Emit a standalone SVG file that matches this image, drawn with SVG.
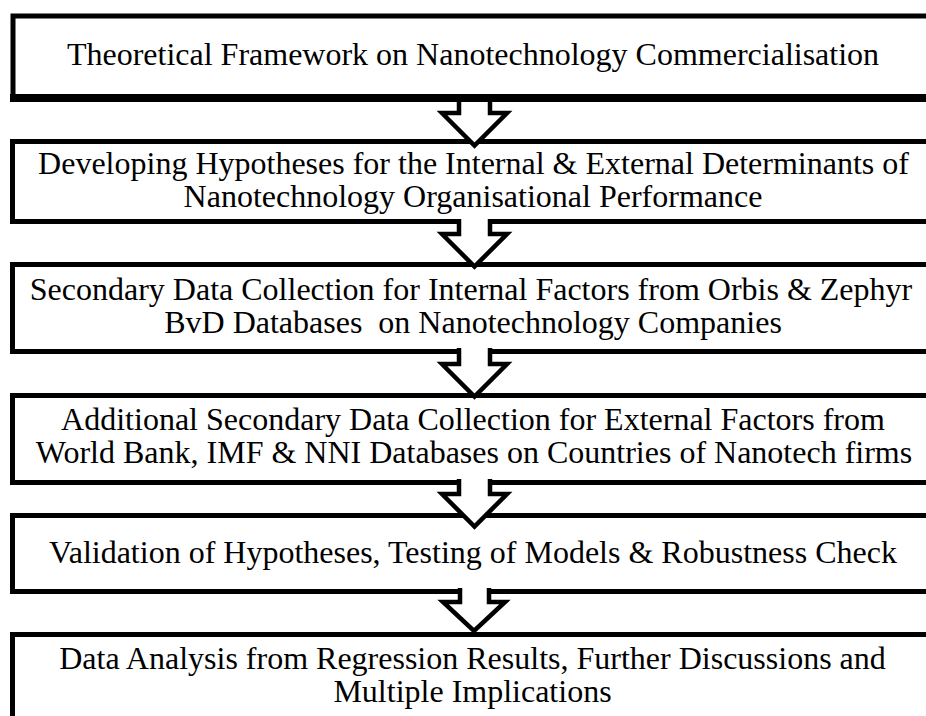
<svg xmlns="http://www.w3.org/2000/svg" width="926" height="716" viewBox="0 0 926 716">
  <style>
    .box { fill: #ffffff; stroke: #000000; stroke-width: 5; }
    .arrow { fill: #ffffff; stroke: #000000; stroke-width: 4.5; stroke-linejoin: miter; stroke-miterlimit: 10; }
  </style>
  <rect x="0" y="0" width="926" height="716" fill="#ffffff"/>

  <!-- process steps -->
  <g font-family="Liberation Serif" font-size="32" fill="#000000" text-anchor="middle">
    <g id="step1">
      <rect class="box" x="13" y="16" width="960" height="81" stroke-width="6"/>
      <rect x="10" y="94" width="960" height="8" fill="#000000"/>
      <text x="473" y="65">Theoretical Framework on Nanotechnology Commercialisation</text>
    </g>
    <g id="step2">
      <rect class="box" x="12.5" y="141.5" width="960" height="80"/>
      <text x="473.5" y="174">Developing Hypotheses for the Internal &amp; External Determinants of</text>
      <text x="473" y="207">Nanotechnology Organisational Performance</text>
    </g>
    <g id="step3">
      <rect class="box" x="12.5" y="264.5" width="960" height="87"/>
      <text x="471" y="300">Secondary Data Collection for Internal Factors from Orbis &amp; Zephyr</text>
      <text x="473" y="333" xml:space="preserve">BvD Databases  on Nanotechnology Companies</text>
    </g>
    <g id="step4">
      <rect class="box" x="12.5" y="395.5" width="960" height="87"/>
      <text x="473" y="430">Additional Secondary Data Collection for External Factors from</text>
      <text x="474" y="463">World Bank, IMF &amp; NNI Databases on Countries of Nanotech firms</text>
    </g>
    <g id="step5">
      <rect class="box" x="12.5" y="515.5" width="960" height="76"/>
      <text x="473" y="563">Validation of Hypotheses, Testing of Models &amp; Robustness Check</text>
    </g>
    <g id="step6">
      <rect class="box" x="12.5" y="634.5" width="960" height="200"/>
      <text x="472.5" y="669">Data Analysis from Regression Results, Further Discussions and</text>
      <text x="472.5" y="702">Multiple Implications</text>
    </g>
  </g>

  <!-- hollow block arrows between steps -->
  <g id="connectors">
    <path class="arrow" d="M459,102 V113 H442 L474.5,145.5 L507,113 H490 V102"/>
    <path class="arrow" d="M459,219 V234 H442 L474.5,266.5 L507,234 H490 V219"/>
    <path class="arrow" d="M459,348 V364 H442 L474.5,396.5 L507,364 H490 V348"/>
    <path class="arrow" d="M459,479 V494 H442 L474.5,526.5 L507,494 H490 V479"/>
    <path class="arrow" d="M460,588 V602 H443 L474,631 L505,602 H489 V588"/>
  </g>
</svg>
